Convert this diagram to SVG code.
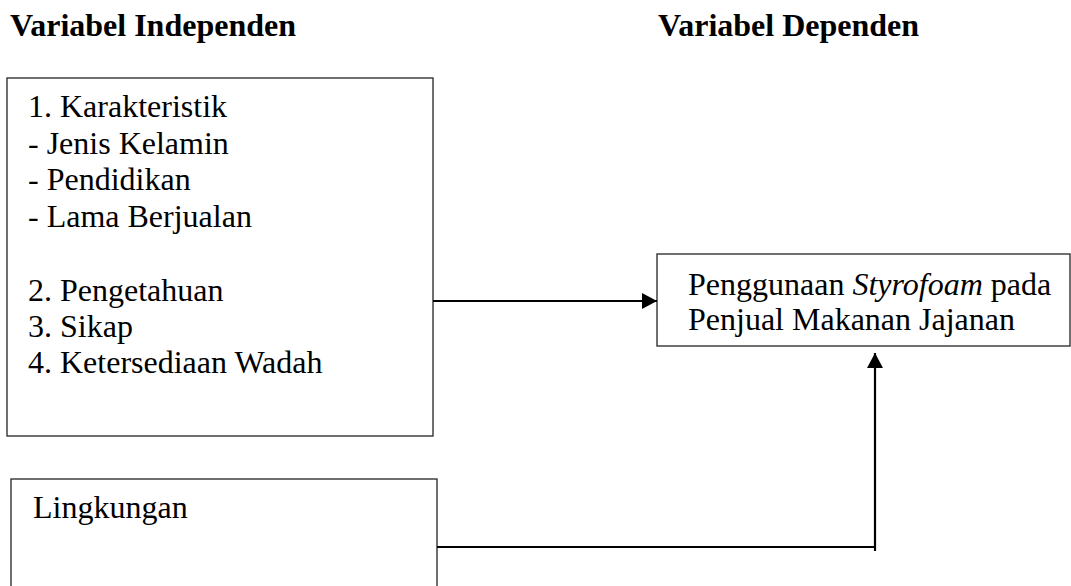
<svg xmlns="http://www.w3.org/2000/svg" width="1071" height="586" viewBox="0 0 1071 586">
<style>
.box{fill:#fff;stroke:#333;stroke-width:1.4}
.t{font-family:"Liberation Serif","Times New Roman",serif;font-size:32px;fill:#000}
.h{font-family:"Liberation Serif","Times New Roman",serif;font-size:32px;font-weight:bold;fill:#000}
.c{fill:none;stroke:#000;stroke-width:2.2}
</style>
<defs>
<marker id="ah" markerWidth="15" markerHeight="16" refX="15" refY="8" orient="auto" markerUnits="userSpaceOnUse">
<path d="M0,0 L15,8 L0,16 Z" fill="#000"/>
</marker>
</defs>
<rect width="1071" height="586" fill="#fff"/>
<text class="h" x="10" y="36">Variabel Independen</text>
<text class="h" x="658" y="36">Variabel Dependen</text>
<g id="node-independen">
<rect class="box" x="7" y="78" width="426" height="358"/>
<text class="t" x="28" y="117">1. Karakteristik</text>
<text class="t" x="28" y="154">- Jenis Kelamin</text>
<text class="t" x="28" y="190">- Pendidikan</text>
<text class="t" x="28" y="227">- Lama Berjualan</text>
<text class="t" x="28" y="301">2. Pengetahuan</text>
<text class="t" x="28" y="337">3. Sikap</text>
<text class="t" x="28" y="373">4. Ketersediaan Wadah</text>
</g>
<g id="node-lingkungan">
<rect class="box" x="11" y="479" width="426" height="130"/>
<text class="t" x="33" y="518">Lingkungan</text>
</g>
<g id="node-dependen">
<rect class="box" x="657" y="254" width="413" height="92"/>
<text class="t" x="688" y="295">Penggunaan <tspan font-style="italic">Styrofoam</tspan> pada</text>
<text class="t" x="688" y="330">Penjual Makanan Jajanan</text>
</g>
<g id="connectors">
<line class="c" x1="433" y1="301" x2="657" y2="301" marker-end="url(#ah)"/>
<polyline class="c" points="437,547 875,547"/>
<line class="c" x1="875" y1="551" x2="875" y2="353" marker-end="url(#ah)"/>
</g>
</svg>
